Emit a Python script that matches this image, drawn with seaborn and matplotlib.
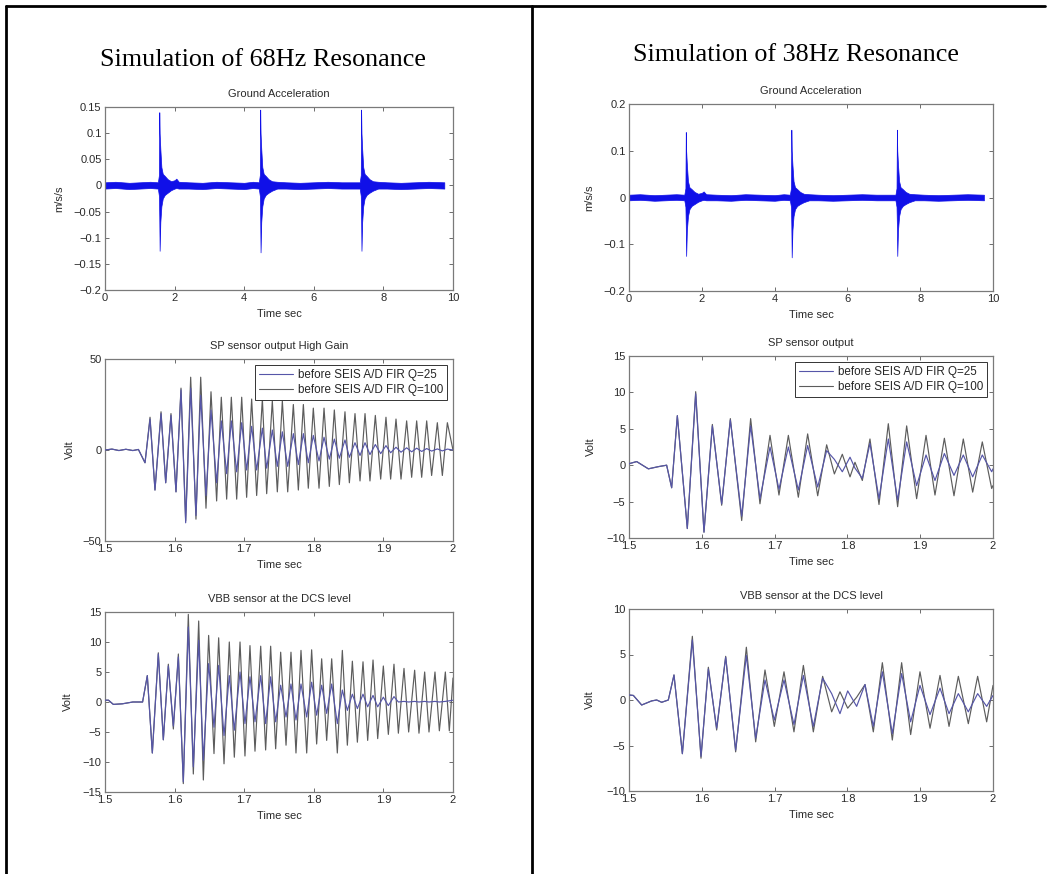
import numpy as np
import pandas as pd
import matplotlib
matplotlib.use("Agg")
import matplotlib.pyplot as plt
from matplotlib.lines import Line2D
import seaborn as sns

# =====================
# Data
# =====================
# ground acceleration: envelope of the dense trace (same input on both sides)
ga_t  = [0.00, 0.30, 0.70, 1.00, 1.30, 1.52, 1.55, 1.56, 1.57, 1.59, 1.62, 1.66, 1.72, 1.80,
         1.90, 2.00, 2.05, 2.12, 2.40, 2.80, 3.20, 3.60, 4.00, 4.25, 4.42, 4.45, 4.46, 4.47,
         4.49, 4.52, 4.56, 4.62, 4.70, 4.80, 4.95, 5.20, 5.60, 6.00, 6.40, 6.80, 7.10, 7.32,
         7.35, 7.36, 7.37, 7.39, 7.42, 7.46, 7.52, 7.60, 7.70, 7.85, 8.10, 8.50, 8.90, 9.30, 9.75]
ga_hi = [0.006, 0.007, 0.005, 0.006, 0.007, 0.006, 0.020, 0.140, 0.100, 0.070, 0.035, 0.022, 0.018, 0.012,
         0.008, 0.010, 0.013, 0.007, 0.006, 0.005, 0.007, 0.006, 0.005, 0.007, 0.006, 0.020, 0.145, 0.100,
         0.070, 0.035, 0.022, 0.018, 0.012, 0.008, 0.007, 0.006, 0.005, 0.006, 0.007, 0.006, 0.006, 0.006,
         0.020, 0.145, 0.100, 0.070, 0.035, 0.022, 0.018, 0.012, 0.008, 0.007, 0.006, 0.005, 0.006, 0.007, 0.006]
ga_lo = [-0.006, -0.005, -0.007, -0.006, -0.005, -0.006, -0.020, -0.060, -0.125, -0.070, -0.040, -0.025, -0.018, -0.014,
         -0.009, -0.006, -0.005, -0.006, -0.006, -0.007, -0.005, -0.006, -0.007, -0.005, -0.006, -0.020, -0.060, -0.128,
         -0.070, -0.040, -0.025, -0.018, -0.014, -0.010, -0.006, -0.006, -0.007, -0.006, -0.005, -0.006, -0.006, -0.006,
         -0.020, -0.060, -0.125, -0.070, -0.040, -0.025, -0.018, -0.014, -0.010, -0.006, -0.006, -0.007, -0.006, -0.005, -0.006]

# 68 Hz, SP sensor output High Gain (extrema of the oscillation)
sp68_t = [1.500, 1.510, 1.520, 1.530, 1.540, 1.548, 1.5575, 1.5647, 1.5718, 1.5805, 1.5872, 1.5948,
          1.6020, 1.6092, 1.6159, 1.6231, 1.6307, 1.6375, 1.6451, 1.6523, 1.6604, 1.6671, 1.6748,
          1.6815, 1.6892, 1.6964, 1.7035, 1.7107, 1.7179, 1.7261, 1.7323, 1.7404, 1.7476, 1.7548,
          1.7625, 1.7706, 1.7778, 1.7850, 1.7921, 1.7993, 1.8075, 1.8147, 1.8223, 1.8295, 1.8367,
          1.8448, 1.8511, 1.8592, 1.8664, 1.8736, 1.8807, 1.8884, 1.8961, 1.9037, 1.9104, 1.9181,
          1.9253, 1.9334, 1.9406, 1.9478, 1.9550, 1.9622, 1.9693, 1.9775, 1.9847, 1.9919, 2.000]
sp68_q100 = [0.0, 0.5, -0.3, 0.4, -0.3, 0.3, -7, 18, -22, 21, -18, 20,
             -23, 34, -39, 40, -38, 40, -32, 32, -28, 29, -27,
             29, -27, 29, -26, 28, -25, 28, -24, 27, -23, 27,
             -23, 25, -22, 25, -21, 23, -21, 23, -20, 22, -19,
             21, -18, 20, -17, 20, -17, 19, -16, 18, -16, 17,
             -16, 16, -15, 16, -15, 16, -14, 15, -14, 15, 0]
sp68_q25 = [0.0, 0.5, -0.3, 0.4, -0.3, 0.3, -7, 17, -22, 20, -18, 19,
            -23, 33, -40, 34, -36, 30, -25, 22, -18, 16, -13,
            16, -12, 15, -11, 13, -11, 12, -10, 11, -9, 10,
            -9, 9, -8, 9, -7, 8, -6, 7, -5, 6, -4.5,
            5.5, -4, 4, -3, 4, -2.5, 3, -2, 2.4, -1.5, 1.5,
            -1.2, 1.2, -1, 1, -0.8, 0.8, -0.6, 0.6, -0.5, 0.5, 0]

# 68 Hz, VBB sensor at the DCS level
vbb68_t = [1.500, 1.505, 1.512, 1.525, 1.540, 1.554, 1.5608, 1.5680, 1.5766, 1.5838, 1.5910, 1.5982,
           1.6054, 1.6125, 1.6197, 1.6269, 1.6346, 1.6413, 1.6489, 1.6566, 1.6633, 1.6710, 1.6786,
           1.6858, 1.6940, 1.7011, 1.7083, 1.7155, 1.7237, 1.7308, 1.7380, 1.7452, 1.7524, 1.7601,
           1.7672, 1.7744, 1.7816, 1.7898, 1.7969, 1.8041, 1.8113, 1.8185, 1.8257, 1.8338, 1.8410,
           1.8482, 1.8554, 1.8626, 1.8707, 1.8774, 1.8851, 1.8918, 1.8999, 1.9071, 1.9152, 1.9215,
           1.9296, 1.9363, 1.9449, 1.9511, 1.9593, 1.9655, 1.9741, 1.9804, 1.9890, 1.9947, 2.000]
vbb68_q100 = [0.3, 0.3, -0.4, -0.3, 0.0, 0.0, 4.4, -8.5, 8.2, -6.3, 6.3, -4.5,
              8.0, -13.6, 14.6, -12.0, 13.5, -13.0, 11.1, -8.6, 10.7, -10.3, 10.0,
              -9.2, 10.0, -9.0, 9.4, -8.2, 9.3, -8.0, 9.3, -7.8, 8.3, -7.2,
              8.3, -8.5, 8.6, -8.5, 8.7, -7.0, 7.2, -6.4, 7.2, -8.5, 8.6,
              -7.2, 6.8, -6.7, 6.7, -6.4, 7.0, -6.1, 6.0, -5.4, 6.3, -5.2,
              5.6, -5.0, 5.3, -5.2, 5.0, -5.0, 5.0, -4.8, 5.0, -4.8, 4.0]
vbb68_q25 = [0.3, 0.3, -0.4, -0.3, 0.0, 0.0, 4.4, -8.5, 8.0, -6.3, 6.0, -4.0,
             7.5, -13.3, 12.5, -10.8, 10.3, -9.7, 6.4, -4.2, 6.1, -5.6, 4.4,
             -4.7, 5.0, -3.6, 4.2, -3.3, 4.4, -3.6, 4.2, -3.3, 2.8, -2.5,
             3.0, -3.0, 3.0, -2.5, 3.3, -2.2, 2.8, -1.9, 3.0, -3.6, 2.0,
             -1.4, 1.3, -1.1, 1.3, -0.8, 1.1, -0.8, 0.8, -0.6, 0.9, 0.0,
             0.1, 0.0, 0.1, 0.0, 0.1, 0.0, 0.1, 0.0, 0.1, 0.2, 0.3]

# 38 Hz, SP sensor output
sp38_t = [1.5000, 1.5105, 1.5266, 1.5403, 1.5517, 1.5586, 1.5664, 1.5801, 1.5916, 1.6030, 1.6145,
          1.6273, 1.6392, 1.6548, 1.6671, 1.6799, 1.6937, 1.7060, 1.7189, 1.7326, 1.7454, 1.7592,
          1.7715, 1.7821, 1.7930, 1.8036, 1.8104, 1.8205, 1.8310, 1.8434, 1.8562, 1.8690, 1.8814,
          1.8951, 1.9080, 1.9203, 1.9332, 1.9464, 1.9592, 1.9721, 1.9853, 1.9982, 2.0000]
sp38_q100 = [0.2, 0.5, -0.5, -0.2, 0.0, -3.1, 6.8, -8.7, 10.1, -9.2, 5.6,
             -5.5, 6.4, -7.6, 6.4, -5.3, 4.1, -4.1, 4.1, -4.4, 4.3, -4.2,
             2.8, -1.2, 1.5, -1.6, 0.4, -2.1, 3.6, -5.4, 5.7, -5.7, 5.4,
             -4.6, 4.1, -4.1, 3.7, -4.2, 3.6, -3.7, 3.2, -3.2, -2.8]
sp38_q25 = [0.2, 0.5, -0.5, -0.2, 0.0, -3.1, 6.8, -8.7, 9.8, -9.2, 5.4,
            -5.3, 6.2, -7.0, 5.4, -4.6, 2.5, -3.3, 2.5, -3.4, 2.7, -3.0,
            2.0, 0.8, -0.9, 1.1, -0.4, -1.8, 3.0, -4.6, 3.6, -4.8, 3.2,
            -2.8, 1.4, -2.1, 1.6, -1.4, 1.4, -1.6, 1.4, -0.9, -0.5]

# 38 Hz, VBB sensor at the DCS level
vbb38_t = [1.5000, 1.5060, 1.5174, 1.5311, 1.5380, 1.5449, 1.5540, 1.5618, 1.5733, 1.5870, 1.5989,
           1.6090, 1.6204, 1.6328, 1.6465, 1.6612, 1.6740, 1.6868, 1.6996, 1.7129, 1.7266, 1.7395,
           1.7532, 1.7660, 1.7784, 1.7898, 1.8004, 1.8127, 1.8242, 1.8356, 1.8480, 1.8617, 1.8745,
           1.8869, 1.8997, 1.9135, 1.9272, 1.9396, 1.9524, 1.9661, 1.9789, 1.9913, 2.0000]
vbb38_q100 = [0.55, 0.5, -0.55, -0.1, 0.0, -0.25, 0.0, 2.75, -5.9, 7.0, -6.4,
              3.6, -3.3, 4.8, -5.7, 5.8, -4.6, 3.3, -2.9, 3.1, -3.5, 3.8,
              -3.5, 2.6, -1.3, 0.9, -0.9, 0.3, 1.7, -3.5, 4.1, -4.4, 4.1,
              -3.8, 3.1, -3.1, 2.7, -2.9, 2.6, -2.6, 2.6, -2.4, 1.6]
vbb38_q25 = [0.55, 0.5, -0.55, -0.1, 0.0, -0.25, 0.0, 2.75, -5.9, 6.6, -6.2,
             3.4, -3.1, 4.7, -5.5, 4.9, -4.2, 2.2, -2.2, 2.2, -2.7, 2.7,
             -2.9, 2.4, 0.7, -1.5, 1.0, -0.7, 1.7, -2.9, 3.1, -3.7, 2.9,
             -2.4, 1.6, -1.6, 1.3, -1.5, 0.7, -1.3, 0.7, -0.7, 0.5]

legend_labels = ["before SEIS A/D FIR Q=25", "before SEIS A/D FIR Q=100"]
main_titles = ["Simulation of 68Hz Resonance", "Simulation of 38Hz Resonance"]

ga_xticks = [0, 2, 4, 6, 8, 10]
osc_xticks = [1.5, 1.6, 1.7, 1.8, 1.9, 2.0]
osc_xlabels = ["1.5", "1.6", "1.7", "1.8", "1.9", "2"]
ga68_yticks = [-0.2, -0.15, -0.1, -0.05, 0, 0.05, 0.1, 0.15]
ga68_ylabels = ["\u22120.2", "\u22120.15", "\u22120.1", "\u22120.05", "0", "0.05", "0.1", "0.15"]
ga38_yticks = [-0.2, -0.1, 0, 0.1, 0.2]
ga38_ylabels = ["\u22120.2", "\u22120.1", "0", "0.1", "0.2"]
sp68_yticks = [-50, 0, 50]
sp68_ylabels = ["\u221250", "0", "50"]
vbb68_yticks = [-15, -10, -5, 0, 5, 10, 15]
vbb68_ylabels = ["\u221215", "\u221210", "\u22125", "0", "5", "10", "15"]
sp38_yticks = [-10, -5, 0, 5, 10, 15]
sp38_ylabels = ["\u221210", "\u22125", "0", "5", "10", "15"]
vbb38_yticks = [-10, -5, 0, 5, 10]
vbb38_ylabels = ["\u221210", "\u22125", "0", "5", "10"]

# =====================
# Style
# =====================
sns.set_theme(style="ticks")
plt.rcParams['font.family'] = ['Liberation Sans', 'DejaVu Sans']
plt.rcParams['axes.unicode_minus'] = True

W, H = 1047, 874
fig = plt.figure(figsize=(W / 100, H / 100), dpi=100)
fig.patch.set_facecolor('white')

BLUE = '#1010e8'
C_Q25 = '#5656a8'
C_Q100 = '#5c5c5c'
TXT = '#2a2a2a'
FS = 8


def px_axes(x0, y0, x1, y1):
    return fig.add_axes([x0 / W, 1 - y1 / H, (x1 - x0) / W, (y1 - y0) / H])


def style_axes(ax, title, ylabel, xticks, xlabels, yticks, ylabels, ylab_px):
    bb = ax.get_position()
    w_px, h_px = bb.width * W, bb.height * H
    ax.set_xticks(xticks, labels=xlabels)
    ax.set_yticks(yticks, labels=ylabels)
    ax.tick_params(direction='in', top=True, right=True, length=3, width=0.6,
                   color='#555555', labelsize=FS, labelcolor=TXT, pad=2.5)
    for s in ax.spines.values():
        s.set_color('#7a7a7a')
        s.set_linewidth(0.9)
    ax.set_title(title, fontsize=FS, color=TXT, y=1 + 13 / h_px, va='center', pad=0)
    ax.set_xlabel('Time sec', fontsize=FS, color=TXT)
    ax.xaxis.set_label_coords(0.5, -19 / h_px)
    ax.set_ylabel(ylabel, fontsize=FS, color=TXT)
    ax.yaxis.set_label_coords(-(ylab_px - 4) / w_px, 0.5)
    ax.grid(False)


def ground_panel(ax):
    ax.fill_between(ga_t, ga_lo, ga_hi, color=BLUE, linewidth=0.5, edgecolor=BLUE)
    ax.set_xlim(0, 10)


def osc_panel(ax, t, q25, q100, legend):
    df = pd.DataFrame({'t': t, 'q25': q25, 'q100': q100})
    sns.lineplot(data=df, x='t', y='q100', ax=ax, color=C_Q100, linewidth=0.85, zorder=2)
    sns.lineplot(data=df, x='t', y='q25', ax=ax, color=C_Q25, linewidth=0.85, zorder=3)
    ax.set_xlim(1.5, 2.0)
    if legend:
        handles = [Line2D([], [], color=C_Q25, lw=0.8), Line2D([], [], color=C_Q100, lw=0.8)]
        leg = ax.legend(handles, legend_labels, loc='upper right', fontsize=8.4,
                        frameon=True, fancybox=False, framealpha=1, edgecolor='#333333',
                        handlelength=2.9, borderaxespad=0.5, borderpad=0.35,
                        labelspacing=0.25, handletextpad=0.45)
        leg.get_frame().set_linewidth(0.7)
        leg.set_zorder(5)


# =====================
# Left column: 68 Hz
# =====================
ax = px_axes(105, 107, 453, 290)
ground_panel(ax)
ax.set_ylim(-0.2, 0.15)
style_axes(ax, 'Ground Acceleration', 'm/s/s', ga_xticks, [str(v) for v in ga_xticks],
           ga68_yticks, ga68_ylabels, 45)

ax = px_axes(105, 359, 453, 541)
osc_panel(ax, sp68_t, sp68_q25, sp68_q100, True)
ax.set_ylim(-50, 50)
style_axes(ax, 'SP sensor output High Gain', 'Volt', osc_xticks, osc_xlabels,
           sp68_yticks, sp68_ylabels, 34)

ax = px_axes(105, 612, 453, 792)
osc_panel(ax, vbb68_t, vbb68_q25, vbb68_q100, False)
ax.set_ylim(-15, 15)
style_axes(ax, 'VBB sensor at the DCS level', 'Volt', osc_xticks, osc_xlabels,
           vbb68_yticks, vbb68_ylabels, 36)

# =====================
# Right column: 38 Hz
# =====================
ax = px_axes(629, 104, 993, 291)
ground_panel(ax)
ax.set_ylim(-0.2, 0.2)
style_axes(ax, 'Ground Acceleration', 'm/s/s', ga_xticks, [str(v) for v in ga_xticks],
           ga38_yticks, ga38_ylabels, 39)

ax = px_axes(629, 356, 993, 538)
osc_panel(ax, sp38_t, sp38_q25, sp38_q100, True)
ax.set_ylim(-10, 15)
style_axes(ax, 'SP sensor output', 'Volt', osc_xticks, osc_xlabels,
           sp38_yticks, sp38_ylabels, 37)

ax = px_axes(629, 609, 993, 791)
osc_panel(ax, vbb38_t, vbb38_q25, vbb38_q100, False)
ax.set_ylim(-10, 10)
style_axes(ax, 'VBB sensor at the DCS level', 'Volt', osc_xticks, osc_xlabels,
           vbb38_yticks, vbb38_ylabels, 38)

# =====================
# Page frame + column headings
# =====================
for xs, ys in [([6 / W, 1045 / W], [1 - 6 / H, 1 - 6 / H]),
               ([6 / W, 6 / W], [1 - 6 / H, 0]),
               ([532 / W, 532 / W], [1 - 6 / H, 0])]:
    fig.add_artist(Line2D(xs, ys, transform=fig.transFigure, color='black', linewidth=2.0))

fig.text(263 / W, 1 - 60 / H, main_titles[0], ha='center', va='center',
         family=['Liberation Serif', 'DejaVu Serif'], fontsize=18.8, color='black')
fig.text(796 / W, 1 - 55 / H, main_titles[1], ha='center', va='center',
         family=['Liberation Serif', 'DejaVu Serif'], fontsize=18.8, color='black')

plt.savefig('out.png', dpi=100)
